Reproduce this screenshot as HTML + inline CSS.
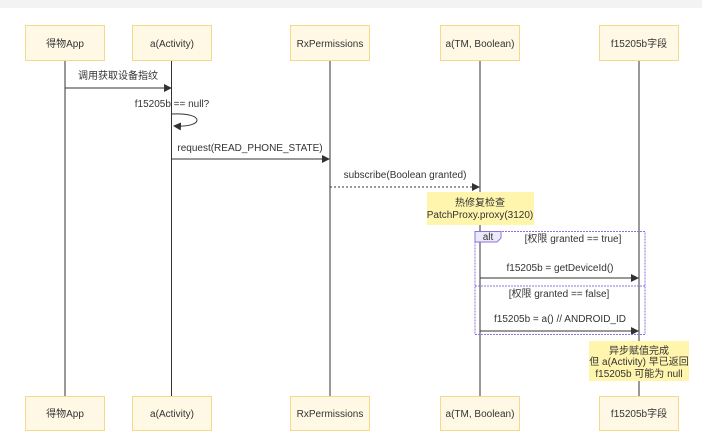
<!DOCTYPE html>
<html><head><meta charset="utf-8"><style>
html,body{margin:0;padding:0;background:#fff;}
svg{display:block;font-family:"Liberation Sans","Noto Sans CJK SC",sans-serif;}
</style></head><body>
<svg width="702" height="441" viewBox="0 0 702 441" xmlns="http://www.w3.org/2000/svg">
<defs>
<marker id="a" markerWidth="8" markerHeight="8" refX="7" refY="4" orient="auto" markerUnits="userSpaceOnUse"><path d="M0,0 L8,4 L0,8 z" fill="#333"/></marker>
</defs>
<rect x="0" y="0" width="702" height="8" fill="#f3f3f3"/>
<g stroke="#333" stroke-width="1">
<line x1="65" y1="60" x2="65" y2="396"/>
<line x1="171.5" y1="60" x2="171.5" y2="396"/>
<line x1="330" y1="60" x2="330" y2="396"/>
<line x1="480" y1="60" x2="480" y2="396"/>
<line x1="639" y1="60" x2="639" y2="396"/>
</g>
<g fill="#fff8e5" stroke="#f5d98a" stroke-width="1">
<rect x="25.5" y="25.5" width="79" height="35"/>
<rect x="132.5" y="25.5" width="79" height="35"/>
<rect x="290.5" y="25.5" width="79" height="35"/>
<rect x="440.5" y="25.5" width="79" height="35"/>
<rect x="599.5" y="25.5" width="79" height="35"/>
<rect x="25.5" y="396.5" width="79" height="34"/>
<rect x="132.5" y="396.5" width="79" height="34"/>
<rect x="290.5" y="396.5" width="79" height="34"/>
<rect x="440.5" y="396.5" width="79" height="34"/>
<rect x="599.5" y="396.5" width="79" height="34"/>
</g>
<g font-size="10" fill="#333" text-anchor="middle">
<text x="65" y="47">得物App</text><text x="172" y="47">a(Activity)</text><text x="330" y="47">RxPermissions</text><text x="480" y="47">a(TM, Boolean)</text><text x="639" y="47">f15205b字段</text>
<text x="65" y="417">得物App</text><text x="172" y="417">a(Activity)</text><text x="330" y="417">RxPermissions</text><text x="480" y="417">a(TM, Boolean)</text><text x="639" y="417">f15205b字段</text>
</g>
<g stroke="#333" stroke-width="1" fill="none">
<line x1="65" y1="88" x2="171" y2="88" marker-end="url(#a)"/>
<path d="M172,114 C205,112 205,128 174,126" marker-end="url(#a)"/>
<line x1="172" y1="159" x2="329" y2="159" marker-end="url(#a)"/>
<line x1="330" y1="187" x2="479" y2="187" stroke-dasharray="2,2" marker-end="url(#a)"/>
<line x1="480" y1="278" x2="638" y2="278" marker-end="url(#a)"/>
<line x1="480" y1="331" x2="638" y2="331" marker-end="url(#a)"/>
</g>
<g font-size="10" fill="#333" text-anchor="middle">
<text x="118" y="79">调用获取设备指纹</text>
<text x="172" y="107">f15205b == null?</text>
<text x="250" y="151">request(READ_PHONE_STATE)</text>
<text x="405" y="178">subscribe(Boolean granted)</text>
<text x="560" y="271">f15205b = getDeviceId()</text>
<text x="560" y="322">f15205b = a() // ANDROID_ID</text>
</g>
<rect x="427" y="192" width="107" height="33" fill="#fff5ad"/>
<g font-size="10" fill="#333" text-anchor="middle">
<text x="480" y="206">热修复检查</text><text x="480" y="218">PatchProxy.proxy(3120)</text>
</g>
<rect x="475" y="231.5" width="170" height="103" fill="none" stroke="#9370db" stroke-width="1" stroke-dasharray="2,1"/>
<line x1="475" y1="286" x2="645" y2="286" stroke="#9370db" stroke-dasharray="2,1"/>
<path d="M475,231.5 H501 V238 L497,242 H475 Z" fill="#ece9fa" stroke="#9370db"/>
<g font-size="10" fill="#333" text-anchor="middle">
<text x="488" y="240">alt</text>
<text x="573" y="242">[权限 granted == true]</text>
<text x="559" y="297">[权限 granted == false]</text>
</g>
<rect x="589" y="341" width="100" height="40" fill="#fff5ad"/>
<g font-size="10" fill="#333" text-anchor="middle">
<text x="639" y="354">异步赋值完成</text><text x="639" y="365">但 a(Activity) 早已返回</text><text x="639" y="377">f15205b 可能为 null</text>
</g>
</svg>
</body></html>
